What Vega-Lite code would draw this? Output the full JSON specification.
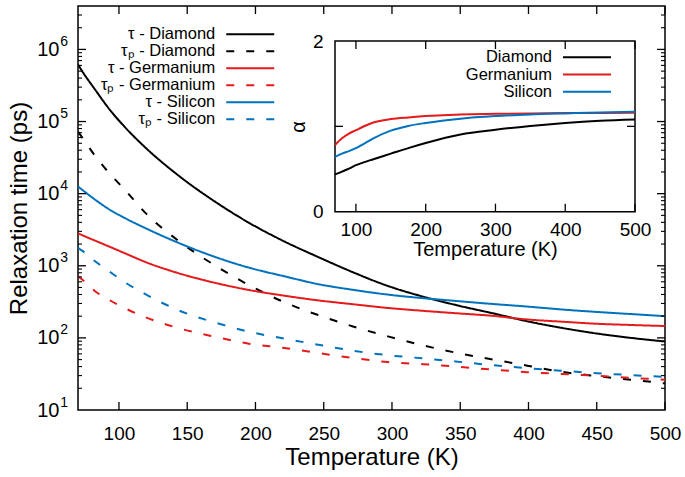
{
"$schema":"https://vega.github.io/schema/vega-lite/v6.json",
"width":587,"height":404,
"autosize":{"type":"none"},
"padding":{"left":78,"top":6,"right":20,"bottom":67},
"background":"white",
"config":{
 "font":"Liberation Sans",
 "view":{"stroke":"black","strokeWidth":1.5},
 "axis":{"grid":false,"domain":false,"ticks":false,"labelColor":"black","titleColor":"black","titleFontWeight":"normal","labelFontSize":19,"labelFlush":false,"labelOverlap":false},
 "rule":{"color":"black","strokeWidth":1.3,"opacity":1},
 "legend":{"title":null,"orient":"none","symbolType":"M-4,0L4,0","symbolSize":144,"symbolStrokeWidth":2,"labelAlign":"right","labelOffset":-43.25,"labelFontSize":16.5,"labelColor":"black","padding":0,"labelLimit":0}
},
"datasets":{
"main":[
{"T":70,"s":"τ - Diamond","tau":617000},{"T":73,"s":"τ - Diamond","tau":501000},{"T":83,"s":"τ - Diamond","tau":269000},{"T":93,"s":"τ - Diamond","tau":148000},{"T":104,"s":"τ - Diamond","tau":85100},{"T":119,"s":"τ - Diamond","tau":44200},{"T":144,"s":"τ - Diamond","tau":17600},{"T":170,"s":"τ - Diamond","tau":7830},{"T":195,"s":"τ - Diamond","tau":3970},{"T":221,"s":"τ - Diamond","tau":2180},{"T":246,"s":"τ - Diamond","tau":1320},{"T":272,"s":"τ - Diamond","tau":804},{"T":297,"s":"τ - Diamond","tau":525},{"T":323,"s":"τ - Diamond","tau":372},{"T":348,"s":"τ - Diamond","tau":282},{"T":374,"s":"τ - Diamond","tau":219},{"T":399,"s":"τ - Diamond","tau":170},{"T":424,"s":"τ - Diamond","tau":138},{"T":450,"s":"τ - Diamond","tau":115},{"T":475,"s":"τ - Diamond","tau":100},{"T":500,"s":"τ - Diamond","tau":89.1},
{"T":70,"s":"τₚ - Diamond","tau":72400},{"T":73,"s":"τₚ - Diamond","tau":60300},{"T":83,"s":"τₚ - Diamond","tau":32400},{"T":93,"s":"τₚ - Diamond","tau":19100},{"T":104,"s":"τₚ - Diamond","tau":11500},{"T":119,"s":"τₚ - Diamond","tau":5500},{"T":144,"s":"τₚ - Diamond","tau":2190},{"T":170,"s":"τₚ - Diamond","tau":1020},{"T":195,"s":"τₚ - Diamond","tau":543},{"T":221,"s":"τₚ - Diamond","tau":313},{"T":246,"s":"τₚ - Diamond","tau":207},{"T":272,"s":"τₚ - Diamond","tau":143},{"T":297,"s":"τₚ - Diamond","tau":105},{"T":323,"s":"τₚ - Diamond","tau":78.5},{"T":348,"s":"τₚ - Diamond","tau":61.7},{"T":374,"s":"τₚ - Diamond","tau":50.1},{"T":399,"s":"τₚ - Diamond","tau":41.2},{"T":424,"s":"τₚ - Diamond","tau":33.9},{"T":450,"s":"τₚ - Diamond","tau":29.5},{"T":475,"s":"τₚ - Diamond","tau":26.3},{"T":500,"s":"τₚ - Diamond","tau":23.4},
{"T":70,"s":"τ - Germanium","tau":2820},{"T":73,"s":"τ - Germanium","tau":2660},{"T":83,"s":"τ - Germanium","tau":2210},{"T":93,"s":"τ - Germanium","tau":1840},{"T":104,"s":"τ - Germanium","tau":1500},{"T":119,"s":"τ - Germanium","tau":1135},{"T":144,"s":"τ - Germanium","tau":785},{"T":170,"s":"τ - Germanium","tau":582},{"T":195,"s":"τ - Germanium","tau":462},{"T":221,"s":"τ - Germanium","tau":385},{"T":246,"s":"τ - Germanium","tau":331},{"T":272,"s":"τ - Germanium","tau":292},{"T":297,"s":"τ - Germanium","tau":260},{"T":323,"s":"τ - Germanium","tau":237},{"T":348,"s":"τ - Germanium","tau":219},{"T":374,"s":"τ - Germanium","tau":202},{"T":399,"s":"τ - Germanium","tau":180},{"T":424,"s":"τ - Germanium","tau":168},{"T":450,"s":"τ - Germanium","tau":157},{"T":475,"s":"τ - Germanium","tau":151},{"T":500,"s":"τ - Germanium","tau":146},
{"T":70,"s":"τₚ - Germanium","tau":716},{"T":73,"s":"τₚ - Germanium","tau":646},{"T":83,"s":"τₚ - Germanium","tau":437},{"T":93,"s":"τₚ - Germanium","tau":335},{"T":104,"s":"τₚ - Germanium","tau":260},{"T":119,"s":"τₚ - Germanium","tau":195},{"T":144,"s":"τₚ - Germanium","tau":136},{"T":170,"s":"τₚ - Germanium","tau":104},{"T":195,"s":"τₚ - Germanium","tau":83.2},{"T":221,"s":"τₚ - Germanium","tau":72.4},{"T":246,"s":"τₚ - Germanium","tau":61.7},{"T":272,"s":"τₚ - Germanium","tau":52.5},{"T":297,"s":"τₚ - Germanium","tau":46.2},{"T":323,"s":"τₚ - Germanium","tau":43.2},{"T":348,"s":"τₚ - Germanium","tau":39.8},{"T":374,"s":"τₚ - Germanium","tau":36.3},{"T":399,"s":"τₚ - Germanium","tau":33.5},{"T":424,"s":"τₚ - Germanium","tau":31.6},{"T":450,"s":"τₚ - Germanium","tau":29.9},{"T":475,"s":"τₚ - Germanium","tau":27.9},{"T":500,"s":"τₚ - Germanium","tau":26.3},
{"T":70,"s":"τ - Silicon","tau":12600},{"T":73,"s":"τ - Silicon","tau":11350},{"T":83,"s":"τ - Silicon","tau":8130},{"T":93,"s":"τ - Silicon","tau":6030},{"T":104,"s":"τ - Silicon","tau":4620},{"T":119,"s":"τ - Silicon","tau":3350},{"T":144,"s":"τ - Silicon","tau":2065},{"T":170,"s":"τ - Silicon","tau":1334},{"T":195,"s":"τ - Silicon","tau":944},{"T":221,"s":"τ - Silicon","tau":716},{"T":246,"s":"τ - Silicon","tau":556},{"T":272,"s":"τ - Silicon","tau":462},{"T":297,"s":"τ - Silicon","tau":398},{"T":323,"s":"τ - Silicon","tau":355},{"T":348,"s":"τ - Silicon","tau":324},{"T":374,"s":"τ - Silicon","tau":295},{"T":399,"s":"τ - Silicon","tau":272},{"T":424,"s":"τ - Silicon","tau":248},{"T":450,"s":"τ - Silicon","tau":229},{"T":475,"s":"τ - Silicon","tau":214},{"T":500,"s":"τ - Silicon","tau":200},
{"T":70,"s":"τₚ - Silicon","tau":1780},{"T":73,"s":"τₚ - Silicon","tau":1620},{"T":83,"s":"τₚ - Silicon","tau":1135},{"T":93,"s":"τₚ - Silicon","tau":832},{"T":104,"s":"τₚ - Silicon","tau":596},{"T":119,"s":"τₚ - Silicon","tau":407},{"T":144,"s":"τₚ - Silicon","tau":240},{"T":170,"s":"τₚ - Silicon","tau":164},{"T":195,"s":"τₚ - Silicon","tau":122},{"T":221,"s":"τₚ - Silicon","tau":97.7},{"T":246,"s":"τₚ - Silicon","tau":80.4},{"T":272,"s":"τₚ - Silicon","tau":66.1},{"T":297,"s":"τₚ - Silicon","tau":57.5},{"T":323,"s":"τₚ - Silicon","tau":51.9},{"T":348,"s":"τₚ - Silicon","tau":46.8},{"T":374,"s":"τₚ - Silicon","tau":41.7},{"T":399,"s":"τₚ - Silicon","tau":38.0},{"T":424,"s":"τₚ - Silicon","tau":35.1},{"T":450,"s":"τₚ - Silicon","tau":32.4},{"T":475,"s":"τₚ - Silicon","tau":30.5},{"T":500,"s":"τₚ - Silicon","tau":28.8}
],
"alpha":[
{"T":70,"m":"Diamond","a":0.437},{"T":80,"m":"Diamond","a":0.47},{"T":90,"m":"Diamond","a":0.505},{"T":100,"m":"Diamond","a":0.545},{"T":110,"m":"Diamond","a":0.575},{"T":125,"m":"Diamond","a":0.615},{"T":150,"m":"Diamond","a":0.68},{"T":175,"m":"Diamond","a":0.745},{"T":200,"m":"Diamond","a":0.805},{"T":250,"m":"Diamond","a":0.905},{"T":300,"m":"Diamond","a":0.96},{"T":350,"m":"Diamond","a":1.005},{"T":400,"m":"Diamond","a":1.04},{"T":450,"m":"Diamond","a":1.065},{"T":500,"m":"Diamond","a":1.08},
{"T":70,"m":"Germanium","a":0.78},{"T":80,"m":"Germanium","a":0.86},{"T":90,"m":"Germanium","a":0.915},{"T":100,"m":"Germanium","a":0.955},{"T":110,"m":"Germanium","a":0.995},{"T":125,"m":"Germanium","a":1.045},{"T":150,"m":"Germanium","a":1.085},{"T":175,"m":"Germanium","a":1.105},{"T":200,"m":"Germanium","a":1.12},{"T":250,"m":"Germanium","a":1.14},{"T":300,"m":"Germanium","a":1.147},{"T":350,"m":"Germanium","a":1.152},{"T":400,"m":"Germanium","a":1.155},{"T":450,"m":"Germanium","a":1.157},{"T":500,"m":"Germanium","a":1.158},
{"T":70,"m":"Silicon","a":0.643},{"T":80,"m":"Silicon","a":0.68},{"T":90,"m":"Silicon","a":0.71},{"T":100,"m":"Silicon","a":0.745},{"T":110,"m":"Silicon","a":0.79},{"T":125,"m":"Silicon","a":0.86},{"T":150,"m":"Silicon","a":0.95},{"T":175,"m":"Silicon","a":1.005},{"T":200,"m":"Silicon","a":1.04},{"T":250,"m":"Silicon","a":1.09},{"T":300,"m":"Silicon","a":1.12},{"T":350,"m":"Silicon","a":1.14},{"T":400,"m":"Silicon","a":1.152},{"T":450,"m":"Silicon","a":1.162},{"T":500,"m":"Silicon","a":1.17}
],
"xticks":[{"v":100},{"v":150},{"v":200},{"v":250},{"v":300},{"v":350},{"v":400},{"v":450},{"v":500}],
"yticks":[{"v":100},{"v":1000},{"v":10000},{"v":100000},{"v":1000000}],
"yminor":[{"v":20},{"v":30},{"v":40},{"v":50},{"v":60},{"v":70},{"v":80},{"v":90},{"v":200},{"v":300},{"v":400},{"v":500},{"v":600},{"v":700},{"v":800},{"v":900},{"v":2000},{"v":3000},{"v":4000},{"v":5000},{"v":6000},{"v":7000},{"v":8000},{"v":9000},{"v":20000},{"v":30000},{"v":40000},{"v":50000},{"v":60000},{"v":70000},{"v":80000},{"v":90000},{"v":200000},{"v":300000},{"v":400000},{"v":500000},{"v":600000},{"v":700000},{"v":800000},{"v":900000},{"v":2000000},{"v":3000000}],
"ixticks":[{"v":100},{"v":200},{"v":300},{"v":400},{"v":500}],
"iyticks":[{"v":1}]
},
"layer":[
{
 "layer":[
  {"data":{"name":"main"},"mark":{"type":"line","strokeWidth":2,"interpolate":"monotone","clip":true},
   "encoding":{
    "x":{"field":"T","type":"quantitative","scale":{"domain":[70,500],"nice":false,"zero":false},
         "axis":{"orient":"bottom","values":[100,150,200,250,300,350,400,450,500],"labelPadding":14,"title":"Temperature (K)","titleFontSize":24,"titlePadding":2}},
    "y":{"field":"tau","type":"quantitative","scale":{"type":"log","domain":[10,4000000],"nice":false},
         "axis":{"orient":"left","values":[10,100,1000,10000,100000,1000000],"labelPadding":19,"labelFontSize":20,"labelExpr":"'10'","title":"Relaxation time (ps)","titleFontSize":24,"titlePadding":5}},
    "color":{"field":"s","type":"nominal","scale":{"domain":["τ - Diamond","τₚ - Diamond","τ - Germanium","τₚ - Germanium","τ - Silicon","τₚ - Silicon"],"range":["black","black","#e41a1c","#e41a1c","#0072bd","#0072bd"]},"legend":{"legendX":164,"legendY":20,"rowPadding":0}},
    "strokeDash":{"field":"s","type":"nominal","scale":{"domain":["τ - Diamond","τₚ - Diamond","τ - Germanium","τₚ - Germanium","τ - Silicon","τₚ - Silicon"],"range":[[1,0],[8,12],[1,0],[8,12],[1,0],[8,12]]},"legend":{"legendX":164,"legendY":20,"rowPadding":0}}
   }},
  {"data":{"name":"main"},"mark":{"type":"point","opacity":0},
   "encoding":{
    "x":{"field":"T","type":"quantitative","axis":null},
    "y":{"field":"tau","type":"quantitative","axis":{"orient":"left","values":[10,100,1000,10000,100000,1000000],"labelPadding":18.3,"labelAlign":"left","labelOffset":-8,"labelFontSize":14,"labelExpr":"['0','1','2','3','4','5','6','7'][round(log(datum.value)/LN10)]","title":null}}
   }},
  {"data":{"name":"xticks"},"mark":{"type":"rule"},
   "encoding":{"x":{"field":"v","type":"quantitative","axis":null},"y":{"datum":10,"type":"quantitative","axis":null},"y2":{"datum":12.92}}},
  {"data":{"name":"xticks"},"mark":{"type":"rule"},
   "encoding":{"x":{"field":"v","type":"quantitative","axis":null},"y":{"datum":4000000,"type":"quantitative","axis":null},"y2":{"datum":3096000}}},
  {"data":{"name":"yticks"},"mark":{"type":"rule"},
   "encoding":{"y":{"field":"v","type":"quantitative","axis":null},"x":{"datum":70,"type":"quantitative","axis":null},"x2":{"datum":75.86}}},
  {"data":{"name":"yticks"},"mark":{"type":"rule"},
   "encoding":{"y":{"field":"v","type":"quantitative","axis":null},"x":{"datum":500,"type":"quantitative","axis":null},"x2":{"datum":494.14}}},
  {"data":{"name":"yminor"},"mark":{"type":"rule","strokeWidth":1.1},
   "encoding":{"y":{"field":"v","type":"quantitative","axis":null},"x":{"datum":70,"type":"quantitative","axis":null},"x2":{"datum":72.93}}},
  {"data":{"name":"yminor"},"mark":{"type":"rule","strokeWidth":1.1},
   "encoding":{"y":{"field":"v","type":"quantitative","axis":null},"x":{"datum":500,"type":"quantitative","axis":null},"x2":{"datum":497.07}}}
 ],
 "resolve":{"axis":{"x":"independent","y":"independent"}}
},
{
 "layer":[
  {"data":{"values":[{"f":1}]},"mark":{"type":"rect","fill":"white","stroke":"black","strokeWidth":1.5},
   "encoding":{"x":{"datum":70,"type":"quantitative","axis":null},"x2":{"datum":500},"y":{"datum":0,"type":"quantitative","axis":null},"y2":{"datum":2}}},
  {"data":{"name":"alpha"},"mark":{"type":"line","strokeWidth":2,"interpolate":"monotone"},
   "encoding":{
    "x":{"field":"T","type":"quantitative","scale":{"domain":[70,500],"range":[257,557],"nice":false,"zero":false},
         "axis":{"orient":"bottom","offset":-198.3,"values":[100,200,300,400,500],"labelPadding":9,"title":"Temperature (K)","titleFontSize":20,"titlePadding":0}},
    "y":{"field":"a","type":"quantitative","scale":{"domain":[0,2],"range":[205.7,35],"nice":false,"zero":false},
         "axis":{"orient":"left","offset":-257,"values":[0,1,2],"format":"d","labelPadding":12,"title":"α","titleFontSize":20,"titlePadding":4}},
    "color":{"field":"m","type":"nominal","scale":{"domain":["Diamond","Germanium","Silicon"],"range":["black","#e41a1c","#0072bd"]},"legend":{"legendX":500.75,"legendY":43.05,"rowPadding":0.2}}
   }},
  {"data":{"name":"ixticks"},"mark":{"type":"rule"},
   "encoding":{"x":{"field":"v","type":"quantitative","axis":null},"y":{"datum":0,"type":"quantitative","axis":null},"y2":{"datum":0.094}}},
  {"data":{"name":"ixticks"},"mark":{"type":"rule"},
   "encoding":{"x":{"field":"v","type":"quantitative","axis":null},"y":{"datum":2,"type":"quantitative","axis":null},"y2":{"datum":1.906}}},
  {"data":{"name":"iyticks"},"mark":{"type":"rule"},
   "encoding":{"y":{"field":"v","type":"quantitative","axis":null},"x":{"datum":70,"type":"quantitative","axis":null},"x2":{"datum":81.47}}},
  {"data":{"name":"iyticks"},"mark":{"type":"rule"},
   "encoding":{"y":{"field":"v","type":"quantitative","axis":null},"x":{"datum":500,"type":"quantitative","axis":null},"x2":{"datum":488.53}}}
 ],
 "resolve":{"axis":{"x":"independent","y":"independent"}}
}
],
"resolve":{"scale":{"x":"independent","y":"independent","color":"independent","strokeDash":"independent"},"axis":{"x":"independent","y":"independent"}}
}
